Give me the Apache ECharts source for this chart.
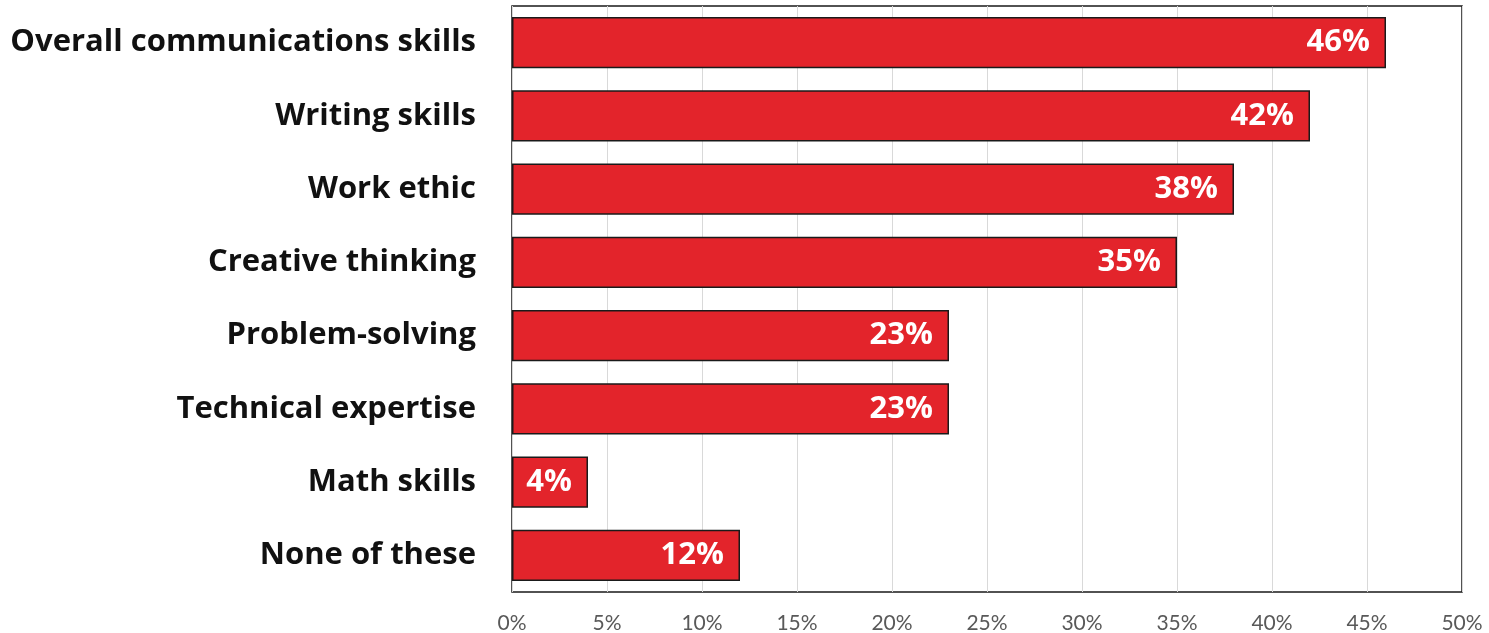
<!DOCTYPE html>
<html>
<head>
<meta charset="utf-8">
<script src="https://cdn.jsdelivr.net/npm/echarts@6/dist/echarts.min.js"></script>
<style>
  html, body { margin: 0; padding: 0; background: #fff; }
  #chart { width: 1489px; height: 633px; }
</style>
</head>
<body>
<div id="chart"></div>
<script>
// Skills named most important (share of respondents)
const categories = [
  'Overall communications skills',
  'Writing skills',
  'Work ethic',
  'Creative thinking',
  'Problem-solving',
  'Technical expertise',
  'Math skills',
  'None of these'
];
const shares = [46, 42, 38, 35, 23, 23, 4, 12];
const axisTicks = [0, 5, 10, 15, 20, 25, 30, 35, 40, 45, 50];

const chart = echarts.init(document.getElementById('chart'));
chart.setOption({
  animation: false,
  grid: {
    left: 512, right: 27, top: 6, bottom: 41,
    show: true, borderColor: '#1a1a1a', borderWidth: 1.5,
    containLabel: false,
    outerBoundsMode: 'none'
  },
  xAxis: {
    type: 'value',
    min: axisTicks[0],
    max: axisTicks[axisTicks.length - 1],
    interval: 5,
    axisLine: { show: false },
    axisTick: { show: false },
    splitLine: { lineStyle: { color: '#d9d9d9', width: 1 } },
    axisLabel: {
      formatter: v => v + '%',
      color: '#595959',
      fontFamily: 'Lato',
      fontSize: 21,
      margin: 21
    }
  },
  yAxis: {
    type: 'category',
    data: categories,
    inverse: true,
    axisLine: { show: false },
    axisTick: { show: false },
    axisLabel: {
      color: '#111',
      fontFamily: 'Open Sans',
      fontWeight: 'bold',
      fontSize: 31,
      margin: 36
    }
  },
  series: [{
    type: 'bar',
    data: shares,
    barCategoryGap: '30%',
    itemStyle: { color: '#e3242b', borderColor: '#1a1a1a', borderWidth: 1.5 },
    label: {
      show: true,
      position: 'insideRight',
      distance: 16,
      formatter: p => p.value + '%',
      color: '#fff',
      fontFamily: 'Open Sans',
      fontWeight: 'bold',
      fontSize: 31
    }
  }]
});
</script>
</body>
</html>
